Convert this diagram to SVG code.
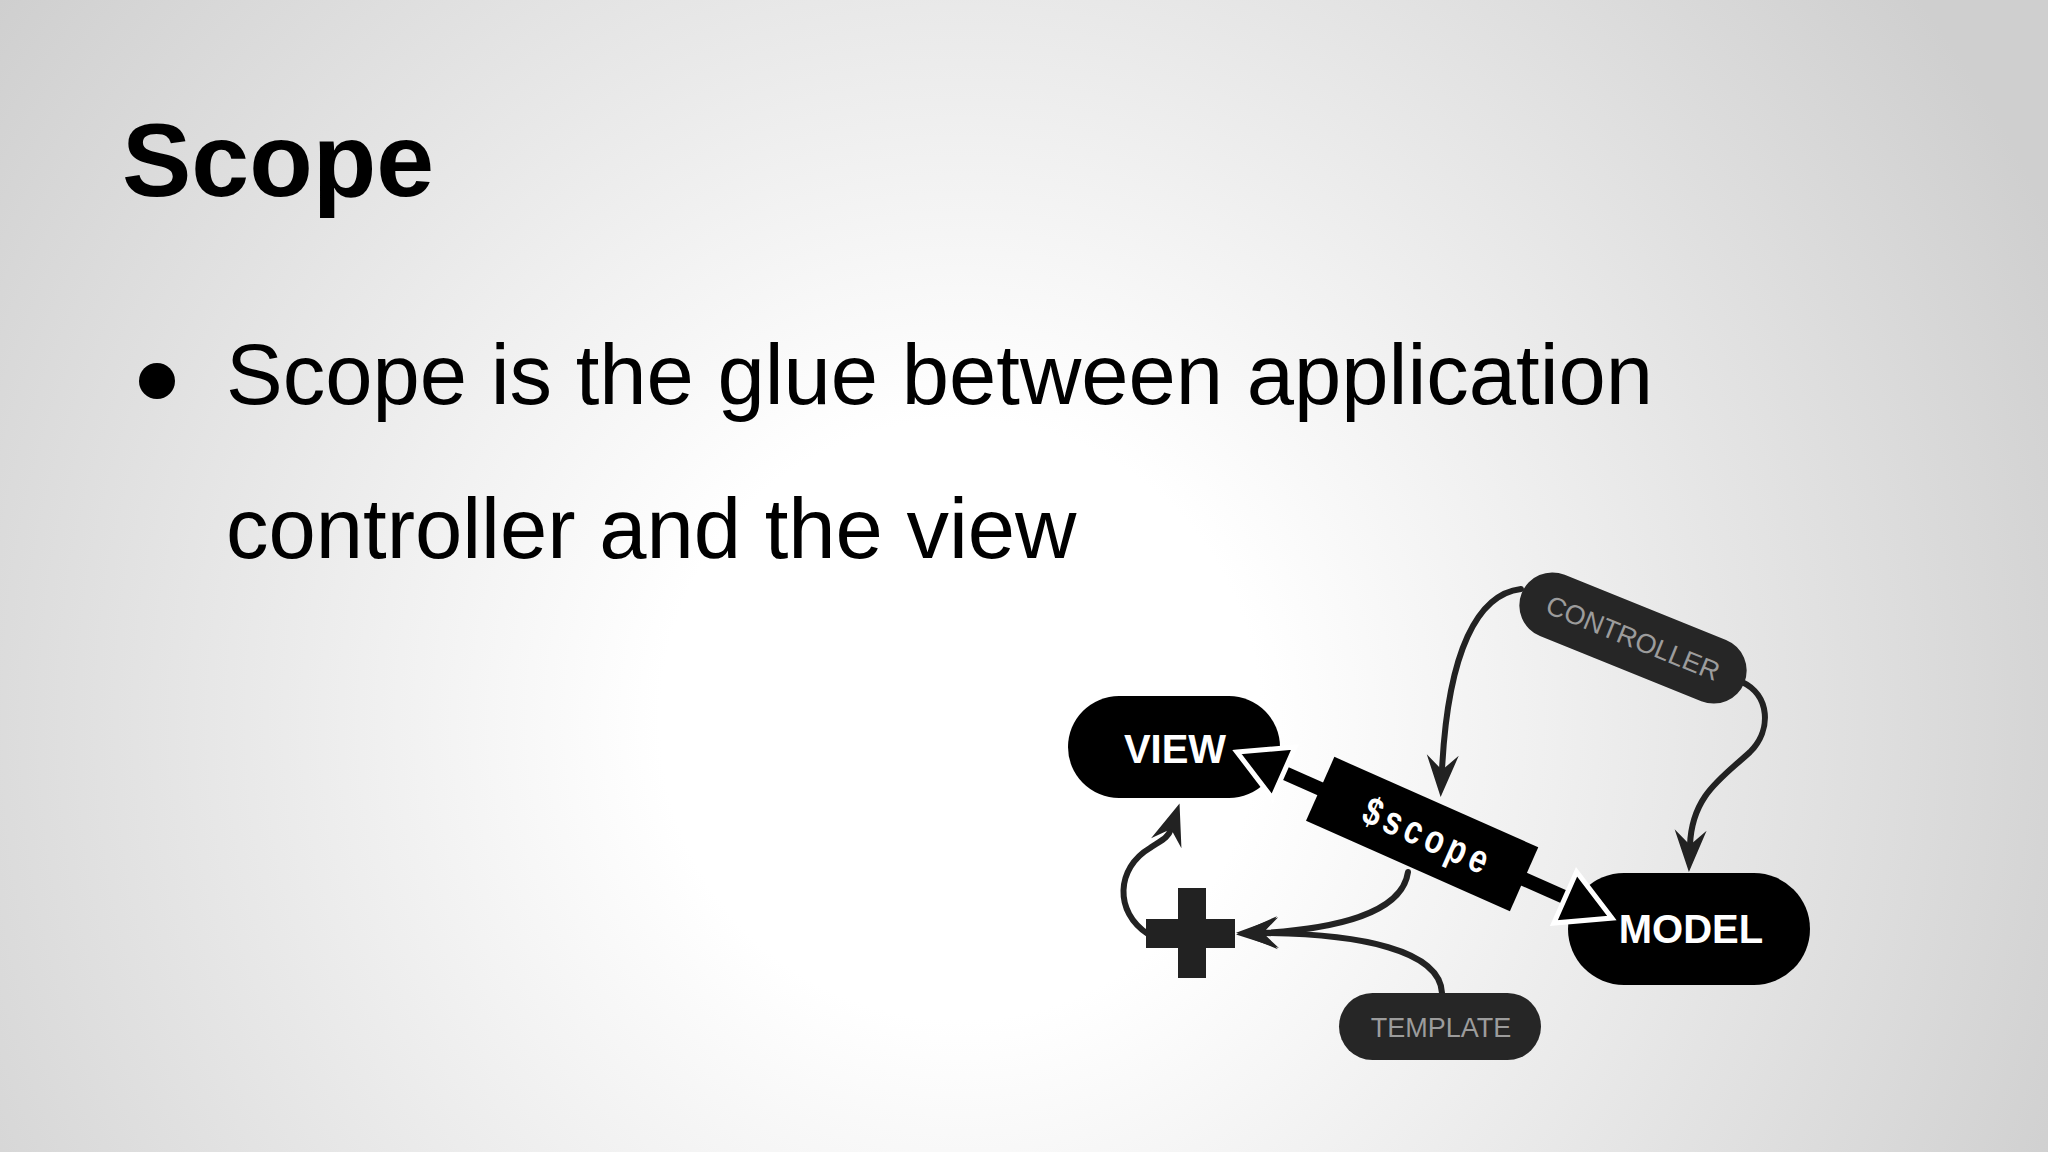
<svg xmlns="http://www.w3.org/2000/svg" width="2048" height="1152" viewBox="0 0 2048 1152">
  <defs>
    <radialGradient id="bg" gradientUnits="userSpaceOnUse" cx="960" cy="720" r="1200">
      <stop offset="0" stop-color="#ffffff"/>
      <stop offset="0.25" stop-color="#ffffff"/>
      <stop offset="1" stop-color="#cfcfcf"/>
    </radialGradient>
    <marker id="barb" markerUnits="userSpaceOnUse" markerWidth="60" markerHeight="60" refX="0" refY="0" orient="auto" overflow="visible">
      <path d="M27,0 L-15,-16 L0,0 L-15,16 Z" fill="#222"/>
    </marker>
    <style>
      .sans { font-family: "Liberation Sans", Arial, sans-serif; }
      .title { font-size: 104px; font-weight: bold; fill: #000; }
      .body { font-size: 85px; fill: #000; }
      .pill { fill: #000; }
      .darkpill { fill: #262626; }
      .lbl { font-size: 40px; font-weight: bold; fill: #fff; text-anchor: middle; }
      .glbl { font-size: 27px; fill: #9c9c9c; text-anchor: middle; }
      .conn { fill: none; stroke: #222; stroke-width: 6; stroke-linecap: round; marker-end: url(#barb); }
      .bighead { fill: #000; stroke: #fff; stroke-width: 5; stroke-linejoin: miter; stroke-miterlimit: 3; }
      .scope { font-family: "Liberation Sans", Arial, sans-serif; font-size: 40px; font-weight: bold; fill: #fff; letter-spacing: 6.5px; text-anchor: middle; }
    </style>
  </defs>

  <rect width="2048" height="1152" fill="url(#bg)"/>

  <g id="title">
    <text class="sans title" x="122" y="196">Scope</text>
  </g>

  <g id="bullet">
    <circle cx="157" cy="381" r="18" fill="#000"/>
    <text class="sans body" x="226" y="404">Scope is the glue between application</text>
    <text class="sans body" x="226" y="558">controller and the view</text>
  </g>

  <g id="connectors">
    <path class="conn" d="M1521,589 C1478,594 1448,650 1442,770"/>
    <path class="conn" d="M1742,682 C1770,695 1772,730 1750,752 C1722,778 1692,795 1690,845"/>
    <path class="conn" d="M1408,872 C1402,915 1330,929 1263,933"/>
    <path class="conn" d="M1442,993 C1440,950 1360,934 1263,933"/>
    <path class="conn" d="M1148,934 C1114,912 1116,868 1150,848 C1162,840 1168,838 1171,829"/>
  </g>

  <g id="view">
    <rect class="pill" x="1068" y="696" width="212" height="102" rx="51"/>
    <text class="sans lbl" x="1175" y="763">VIEW</text>
  </g>

  <g id="model">
    <rect class="pill" x="1568" y="873" width="242" height="112" rx="56"/>
    <text class="sans lbl" x="1691" y="943">MODEL</text>
  </g>

  <g id="scope" transform="translate(1237,752) rotate(23.9)">
    <line x1="40" y1="0" x2="370" y2="0" stroke="#000" stroke-width="14"/>
    <polygon class="bighead" points="0,0 51,-28 51,28"/>
    <polygon class="bighead" points="410,0 359,-28 359,28"/>
    <rect x="91" y="-35" width="223" height="70" fill="#000"/>
    <text class="scope" transform="scale(0.78,1)" x="268" y="13">$scope</text>
  </g>

  <g id="controller" transform="translate(1633,638) rotate(22)">
    <rect class="darkpill" x="-120" y="-33" width="240" height="66" rx="33"/>
    <text class="sans glbl" x="0" y="9.5">CONTROLLER</text>
  </g>

  <g id="plus" fill="#222">
    <rect x="1178" y="888" width="28" height="90"/>
    <rect x="1146" y="919" width="89" height="29"/>
  </g>

  <g id="template">
    <rect class="darkpill" x="1339" y="993" width="202" height="67" rx="33.5"/>
    <text class="sans glbl" x="1441" y="1037">TEMPLATE</text>
  </g>
</svg>
